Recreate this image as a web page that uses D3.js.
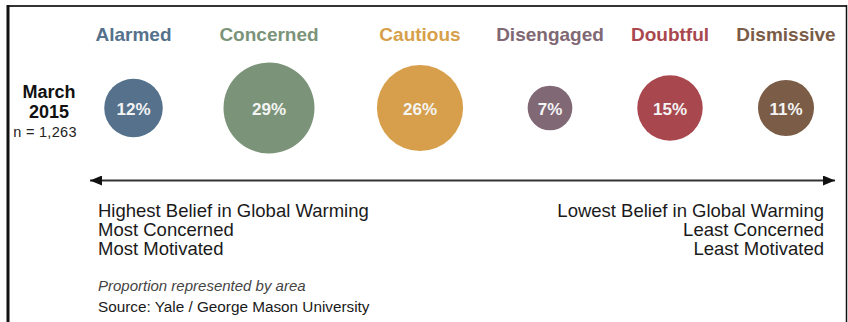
<!DOCTYPE html>
<html>
<head>
<meta charset="utf-8">
<script src="https://cdn.jsdelivr.net/npm/d3@7/dist/d3.min.js"></script>
<style>
  html, body { margin: 0; padding: 0; background: #fff; }
  svg { display: block; font-family: "Liberation Sans", Arial, Helvetica, sans-serif; }
</style>
</head>
<body>
<svg id="chart" width="848" height="322"></svg>
<script>
// ---- data ----
const categories = ["Alarmed", "Concerned", "Cautious", "Disengaged", "Doubtful", "Dismissive"];
const shares = [12, 29, 26, 7, 15, 11];
const colors = ["#55718c", "#7b9479", "#d79f4b", "#806874", "#a9474f", "#7b5c46"];
const surveyLabel = ["March", "2015"];
const sampleLabel = "n = 1,263";
const leftNotes = ["Highest Belief in Global Warming", "Most Concerned", "Most Motivated"];
const rightNotes = ["Lowest Belief in Global Warming", "Least Concerned", "Least Motivated"];
const areaNote = "Proportion represented by area";
const sourceNote = "Source: Yale / George Mason University";

// ---- layout ----
const W = 848, H = 322;
const svg = d3.select("#chart");

// frame
svg.append("line").attr("x1", 7).attr("x2", 847).attr("y1", 6).attr("y2", 6)
  .attr("stroke", "#333").attr("stroke-width", 2);
svg.append("line").attr("x1", 8).attr("x2", 8).attr("y1", 5).attr("y2", H)
  .attr("stroke", "#111").attr("stroke-width", 3);
svg.append("line").attr("x1", 846.5).attr("x2", 846.5).attr("y1", 5).attr("y2", H)
  .attr("stroke", "#111").attr("stroke-width", 1.5);

const x = d3.scaleOrdinal().domain(categories).range([133.5, 269, 420, 550, 670, 786]);
const r = d3.scaleSqrt().domain([0, 29]).range([0, 45.5]);
const color = d3.scaleOrdinal().domain(categories).range(colors);
const cy = 108;

const data = categories.map((c, i) => ({ cat: c, v: shares[i] }));

// category labels
svg.selectAll("text.cat").data(data).join("text")
  .attr("class", "cat")
  .attr("x", d => x(d.cat)).attr("y", 41)
  .attr("text-anchor", "middle")
  .attr("font-size", 19).attr("font-weight", "bold")
  .attr("fill", d => color(d.cat))
  .text(d => d.cat);

// circles
svg.selectAll("circle.seg").data(data).join("circle")
  .attr("class", "seg")
  .attr("cx", d => x(d.cat)).attr("cy", cy)
  .attr("r", d => r(d.v))
  .attr("fill", d => color(d.cat));

svg.selectAll("text.pct").data(data).join("text")
  .attr("class", "pct")
  .attr("x", d => x(d.cat)).attr("y", cy + 6.5)
  .attr("text-anchor", "middle")
  .attr("font-size", 17).attr("font-weight", "bold")
  .attr("fill", "#f4f4f4")
  .text(d => d.v + "%");

// survey label
svg.selectAll("text.survey").data(surveyLabel).join("text")
  .attr("class", "survey")
  .attr("x", 49).attr("y", (d, i) => 98 + i * 20)
  .attr("text-anchor", "middle")
  .attr("font-size", 18).attr("font-weight", "bold")
  .attr("fill", "#111")
  .text(d => d);
svg.append("text")
  .attr("x", 45).attr("y", 137)
  .attr("text-anchor", "middle")
  .attr("font-size", 14.5)
  .attr("letter-spacing", 0.3)
  .attr("fill", "#222")
  .text(sampleLabel);

// arrow
const defs = svg.append("defs");
["start", "end"].forEach(k => {
  defs.append("marker")
    .attr("id", "arrow-" + k)
    .attr("viewBox", "0 0 12 10")
    .attr("refX", k === "end" ? 12 : 0).attr("refY", 5)
    .attr("markerWidth", 12).attr("markerHeight", 10)
    .attr("markerUnits", "userSpaceOnUse")
    .attr("orient", "auto")
    .append("path")
    .attr("d", k === "end" ? "M0,0 L12,5 L0,10 Z" : "M12,0 L0,5 L12,10 Z")
    .attr("fill", "#111");
});
svg.append("line")
  .attr("x1", 90).attr("x2", 835).attr("y1", 180.5).attr("y2", 180.5)
  .attr("stroke", "#333").attr("stroke-width", 2)
  .attr("marker-start", "url(#arrow-start)")
  .attr("marker-end", "url(#arrow-end)");

// notes
svg.selectAll("text.lnote").data(leftNotes).join("text")
  .attr("class", "lnote")
  .attr("x", 98).attr("y", (d, i) => 217 + i * 19)
  .attr("font-size", 18.5).attr("fill", "#1a1a1a")
  .text(d => d);
svg.selectAll("text.rnote").data(rightNotes).join("text")
  .attr("class", "rnote")
  .attr("x", 824).attr("y", (d, i) => 217 + i * 19)
  .attr("text-anchor", "end")
  .attr("font-size", 18.5).attr("fill", "#1a1a1a")
  .text(d => d);

svg.append("text")
  .attr("x", 98).attr("y", 291)
  .attr("font-size", 15).attr("font-style", "italic")
  .attr("fill", "#444")
  .text(areaNote);
svg.append("text")
  .attr("x", 98).attr("y", 312)
  .attr("font-size", 15.3).attr("fill", "#1a1a1a")
  .text(sourceNote);
</script>
</body>
</html>
